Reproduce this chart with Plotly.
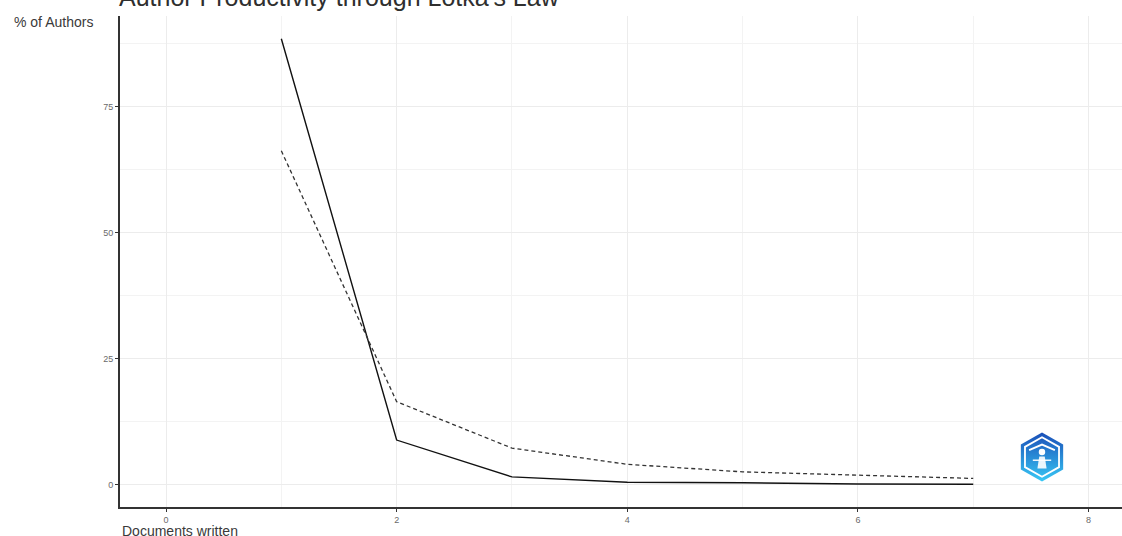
import plotly.graph_objects as go

# Lotka's law: share of authors by number of documents written
docs_written = [1, 2, 3, 4, 5, 6, 7]
observed_pct = [88.4, 8.9, 1.6, 0.55, 0.45, 0.2, 0.15]
theoretical_pct = [66.2, 16.5, 7.3, 4.1, 2.6, 1.9, 1.3]

x_ticks = [0, 2, 4, 6, 8]
y_ticks = [0, 25, 50, 75]

W, H = 1122, 536
M_L, M_R, M_T, M_B = 120, 0, 16, 29
plot_w = W - M_L - M_R
plot_h = H - M_T - M_B

fig = go.Figure()

fig.add_trace(go.Scatter(
    x=docs_written, y=observed_pct, mode="lines",
    line=dict(color="#111111", width=1.4),
    name="Observed", hoverinfo="x+y",
))
fig.add_trace(go.Scatter(
    x=docs_written, y=theoretical_pct, mode="lines",
    line=dict(color="#333333", width=1.3, dash="4px,3px"),
    name="Theoretical", hoverinfo="x+y",
))

tick_font = dict(family="Liberation Sans, Arial, sans-serif", size=9, color="#6a6a6a")
grid_col = "#ececec"

fig.update_xaxes(
    range=[-0.399, 8.29],
    tickvals=x_ticks, ticktext=[str(v) for v in x_ticks],
    showgrid=True, gridcolor=grid_col, gridwidth=1,
    minor=dict(dtick=1, tick0=0, showgrid=True, gridcolor="#f3f3f3", gridwidth=1),
    zeroline=False,
    showline=True, linecolor="#333333", linewidth=2,
    ticks="outside", ticklen=3, tickcolor="#333333", tickwidth=1,
    tickfont=tick_font,
)
fig.update_yaxes(
    range=[-4.36, 92.9],
    tickvals=y_ticks, ticktext=[str(v) for v in y_ticks],
    showgrid=True, gridcolor=grid_col, gridwidth=1,
    minor=dict(dtick=12.5, tick0=0, showgrid=True, gridcolor="#f3f3f3", gridwidth=1),
    zeroline=False,
    showline=True, linecolor="#333333", linewidth=2,
    ticks="outside", ticklen=3, tickcolor="#333333", tickwidth=1,
    tickfont=tick_font,
)

label_font = dict(family="Liberation Sans, Arial, sans-serif", size=14, color="#3a3a3a")

# Title, y-axis label and x-axis label
fig.add_annotation(
    text="Author Productivity through Lotka's Law",
    xref="paper", yref="paper", x=-3 / plot_w, y=1 + 3.5 / plot_h,
    xanchor="left", yanchor="bottom", showarrow=False,
    font=dict(family="Liberation Sans, Arial, sans-serif", size=25, color="#2f2f2f"),
)
fig.add_annotation(
    text="% of Authors",
    xref="paper", yref="paper", x=-108 / plot_w, y=(507 - 22) / plot_h,
    xanchor="left", yanchor="middle", showarrow=False, font=label_font,
)
fig.add_annotation(
    text="Documents written",
    xref="paper", yref="paper", x=0.0, y=-(531 - 507) / plot_h,
    xanchor="left", yanchor="middle", showarrow=False, font=label_font,
)

# bibliometrix-style hexagon badge
svg = (
    "<svg xmlns='http://www.w3.org/2000/svg' viewBox='0 0 100 110'>"
    "<defs><linearGradient id='g' x1='0' y1='0' x2='0' y2='1'>"
    "<stop offset='0' stop-color='%231a4fb8'/><stop offset='1' stop-color='%2338c8f5'/>"
    "</linearGradient></defs>"
    "<polygon points='50,2 96,28 96,82 50,108 4,82 4,28' fill='url(%23g)'/>"
    "<polygon points='50,12 87,33 87,77 50,98 13,77 13,33' fill='none' stroke='white' stroke-width='4'/>"
    "<path d='M22,40 L50,28 L78,40' fill='none' stroke='white' stroke-width='4'/>"
    "<circle cx='50' cy='44' r='7' fill='white'/>"
    "<path d='M44,54 L56,54 L60,80 L40,80 Z' fill='white' opacity='0.9'/>"
    "<path d='M30,62 L70,62' stroke='white' stroke-width='3'/>"
    "</svg>"
)
fig.add_layout_image(
    source="data:image/svg+xml;utf8," + svg,
    xref="paper", yref="paper",
    x=(1042 - M_L) / plot_w, y=(507 - 457) / plot_h,
    sizex=46 / plot_w, sizey=52 / plot_h,
    xanchor="center", yanchor="middle", layer="above",
)

fig.update_layout(
    width=W, height=H,
    margin=dict(l=M_L, r=M_R, t=M_T, b=M_B, pad=0),
    paper_bgcolor="white", plot_bgcolor="white",
    showlegend=False,
    font=dict(family="Liberation Sans, Arial, sans-serif"),
)

fig.write_html("out.html")
